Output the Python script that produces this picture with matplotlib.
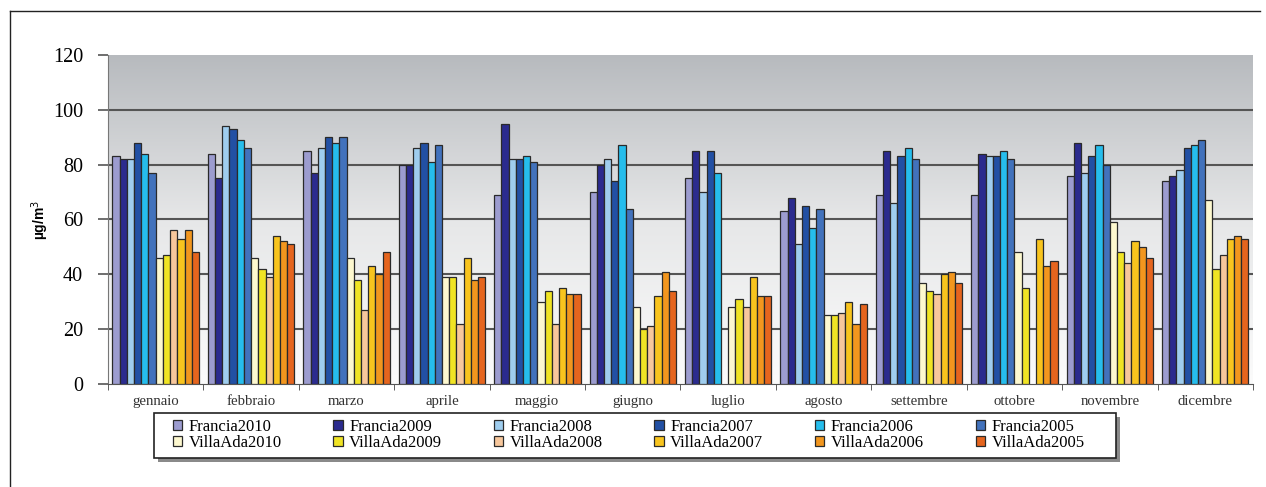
import numpy as np
import matplotlib.pyplot as plt
from matplotlib.colors import LinearSegmentedColormap
from matplotlib.lines import Line2D
from matplotlib.patches import Rectangle

# Monthly means of PM concentration, Francia vs Villa Ada stations
months = ["gennaio", "febbraio", "marzo", "aprile", "maggio", "giugno",
          "luglio", "agosto", "settembre", "ottobre", "novembre", "dicembre"]

nan = np.nan
francia2010 = [83, 84, 85, 80, 69, 70, 75, 63, 69, 69, 76, 74]
francia2009 = [82, 75, 77, 80, 95, 80, 85, 68, 85, 84, 88, 76]
francia2008 = [82, 94, 86, 86, 82, 82, 70, 51, 66, 83, 77, 78]
francia2007 = [88, 93, 90, 88, 82, 74, 85, 65, 83, 83, 83, 86]
francia2006 = [84, 89, 88, 81, 83, 87, 77, 57, 86, 85, 87, 87]
francia2005 = [77, 86, 90, 87, 81, 64, nan, 64, 82, 82, 80, 89]
villaada2010 = [46, 46, 46, 39, 30, 28, 28, 25, 37, 48, 59, 67]
villaada2009 = [47, 42, 38, 39, 34, 20, 31, 25, 34, 35, 48, 42]
villaada2008 = [56, 39, 27, 22, 22, 21, 28, 26, 33, nan, 44, 47]
villaada2007 = [53, 54, 43, 46, 35, 32, 39, 30, 40, 53, 52, 53]
villaada2006 = [56, 52, 40, 38, 33, 41, 32, 22, 41, 43, 50, 54]
villaada2005 = [48, 51, 48, 39, 33, 34, 32, 29, 37, 45, 46, 53]

series = [
    ("Francia2010", francia2010, "#9c9ccf"),
    ("Francia2009", francia2009, "#2b2b8e"),
    ("Francia2008", francia2008, "#9fcdee"),
    ("Francia2007", francia2007, "#2250a4"),
    ("Francia2006", francia2006, "#26bdec"),
    ("Francia2005", francia2005, "#4272bc"),
    ("VillaAda2010", villaada2010, "#fdf8cf"),
    ("VillaAda2009", villaada2009, "#f0e424"),
    ("VillaAda2008", villaada2008, "#f7c79c"),
    ("VillaAda2007", villaada2007, "#f8c41e"),
    ("VillaAda2006", villaada2006, "#f2961e"),
    ("VillaAda2005", villaada2005, "#e5651e"),
]

fig = plt.figure(figsize=(12.66, 4.87), dpi=100)
ax = fig.add_axes([0.0853, 0.2115, 0.9044, 0.6756])

# gray-to-white gradient behind the bars
grad = np.linspace(0, 1, 256).reshape(-1, 1)
bg = LinearSegmentedColormap.from_list("bg", ["#fbfbfb", "#e6e7e8", "#b7babe"])
ax.imshow(grad, cmap=bg, extent=[0, 1, 0, 1], transform=ax.transAxes,
          aspect="auto", origin="lower", zorder=0)

x = np.arange(len(months))
width = 0.0755
handles = {}
for i, (name, vals, color) in enumerate(series):
    bars = ax.bar(x + (i - 5.5) * width, vals, width, color=color,
                  edgecolor="#2a2a2a", linewidth=0.9, zorder=3, label=name)
    handles[name] = bars

ax.set_xlim(-0.5, 11.5)
ax.set_ylim(0, 120)
ax.set_yticks(range(0, 121, 20))
for v in range(20, 101, 20):
    ax.axhline(v, color="#555555", lw=1.5, zorder=1)

ax.set_xticks(x)
ax.set_xticklabels(months, family="Liberation Serif", fontsize=10.6, color="#333333")
ax.set_xticks(np.arange(-0.5, 12, 1), minor=True)
ax.tick_params(axis="x", which="major", length=0, pad=8)
ax.tick_params(axis="x", which="minor", length=4, color="#444444", direction="out")
ax.tick_params(axis="y", length=7, color="#555555", width=1.2, pad=11)
for lbl in ax.get_yticklabels():
    lbl.set_family("Liberation Serif")
    lbl.set_fontsize(14.5)

for side in ["top", "right"]:
    ax.spines[side].set_visible(False)
ax.spines["left"].set_color("#777777")
ax.spines["bottom"].set_color("#555555")

ax.set_ylabel("µg/m$^3$", fontsize=10, fontweight="bold", family="Liberation Sans",
              labelpad=1)

# legend: Francia in the top row, Villa Ada below
order = []
for k in range(6):
    order.append(series[k][0])
    order.append(series[k + 6][0])
leg = fig.legend([handles[n] for n in order], order, ncol=6,
                 loc="upper left", bbox_to_anchor=(0.1259, 0.168),
                 bbox_transform=fig.transFigure, frameon=False,
                 prop={"family": "Liberation Serif", "size": 12},
                 handlelength=0.55, handleheight=0.55, handletextpad=0.4,
                 columnspacing=3.1, borderpad=0.3, labelspacing=0.05)

# framed box with drop shadow around the legend
fig.canvas.draw()
bb = leg.get_window_extent().transformed(fig.transFigure.inverted())
fw, fh = fig.get_size_inches() * fig.dpi
x0 = bb.x0 - 14 / fw
x1 = bb.x1 + 26 / fw
y0 = bb.y0 - 2 / fh
y1 = bb.y1 + 1 / fh
fig.add_artist(Rectangle((x0 + 4 / fw, y0 - 4 / fh), x1 - x0, y1 - y0,
                         transform=fig.transFigure, facecolor="#8a8a8a",
                         edgecolor="none", zorder=1))
fig.add_artist(Rectangle((x0, y0), x1 - x0, y1 - y0, transform=fig.transFigure,
                         facecolor="white", edgecolor="#222222", lw=1.2, zorder=2))
leg.set_zorder(3)

# outer frame
fig.add_artist(Line2D([0.008, 0.995], [0.978, 0.978], color="#222222", lw=1,
                      transform=fig.transFigure))
fig.add_artist(Line2D([0.008, 0.008], [0.0, 0.978], color="#222222", lw=1,
                      transform=fig.transFigure))

fig.savefig("out.png", dpi=100)
